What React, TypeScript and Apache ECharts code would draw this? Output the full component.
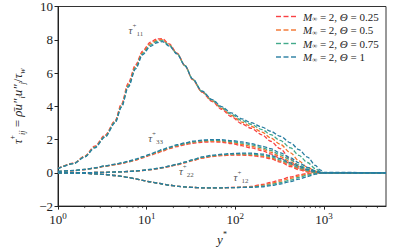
import React, { useEffect, useRef } from 'react';
import * as echarts from 'echarts';

const Y_STAR = [1, 1.5, 2, 2.6, 3.4, 4.4, 5.2, 6.2, 7.5, 9, 11, 13, 15, 18, 22, 27, 33, 42, 55, 70, 90, 118, 150, 200, 250, 320, 420, 520, 650, 800, 900, 1000, 5000];

const LEGEND_NAMES = ['M∞ = 2, Θ = 0.25', 'M∞ = 2, Θ = 0.5', 'M∞ = 2, Θ = 0.75', 'M∞ = 2, Θ = 1'];
const THETA_LABELS = ['0.25', '0.5', '0.75', '1'];
const COLORS = ['#F94144', '#F3722C', '#43AA8B', '#277DA1'];

// tau11
const TAU11_T025 = [0.27,0.58,1.0,1.6,2.27,3.13,4.15,5.4,6.5,7.32,7.85,8.05,8.06,7.75,7.2,6.45,5.6,4.85,4.28,3.82,3.38,2.95,2.68,2.28,1.9,1.45,0.82,0.4,0.14,0.04,0.01,0,0];
const TAU11_T050 = [0.26,0.57,0.98,1.56,2.22,3.08,4.07,5.3,6.4,7.24,7.76,7.97,8.0,7.7,7.18,6.45,5.62,4.87,4.32,3.88,3.45,3.05,2.8,2.45,2.1,1.72,1.2,0.72,0.33,0.1,0.03,0,0];
const TAU11_T075 = [0.25,0.56,0.97,1.53,2.19,3.05,4.0,5.22,6.32,7.17,7.68,7.9,7.95,7.66,7.16,6.44,5.63,4.89,4.36,3.93,3.52,3.15,2.92,2.6,2.3,1.95,1.5,1.05,0.62,0.25,0.08,0.01,0];
const TAU11_T100 = [0.25,0.55,0.95,1.5,2.15,3.0,3.95,5.15,6.25,7.1,7.6,7.82,7.89,7.62,7.15,6.45,5.65,4.92,4.4,3.98,3.6,3.25,3.02,2.75,2.5,2.2,1.8,1.4,0.95,0.45,0.18,0.03,0];

// tau33
const TAU33_T025 = [0.07,0.13,0.19,0.28,0.39,0.49,0.56,0.65,0.76,0.9,1.05,1.18,1.3,1.45,1.58,1.69,1.78,1.84,1.86,1.84,1.76,1.63,1.5,1.33,1.14,0.88,0.55,0.28,0.1,0.02,0,0,0];
const TAU33_T050 = [0.07,0.13,0.2,0.29,0.4,0.5,0.57,0.67,0.78,0.92,1.08,1.21,1.33,1.48,1.62,1.73,1.82,1.89,1.91,1.89,1.82,1.71,1.59,1.42,1.24,0.98,0.66,0.38,0.16,0.04,0.01,0,0];
const TAU33_T075 = [0.08,0.14,0.2,0.29,0.41,0.51,0.59,0.68,0.8,0.95,1.1,1.25,1.37,1.52,1.65,1.76,1.86,1.93,1.96,1.94,1.88,1.79,1.68,1.51,1.35,1.08,0.78,0.48,0.24,0.08,0.02,0,0];
const TAU33_T100 = [0.08,0.14,0.21,0.3,0.42,0.52,0.6,0.7,0.82,0.97,1.13,1.28,1.4,1.55,1.69,1.8,1.9,1.97,2.0,1.99,1.94,1.86,1.76,1.6,1.45,1.2,0.9,0.6,0.33,0.12,0.04,0,0];

// tau22
const TAU22_T025 = [0,0.005,0.01,0.02,0.03,0.05,0.06,0.08,0.1,0.14,0.19,0.24,0.3,0.38,0.48,0.6,0.73,0.88,0.98,1.03,1.06,1.07,1.04,0.96,0.85,0.65,0.38,0.18,0.05,0.01,0,0,0];
const TAU22_T050 = [0,0.005,0.01,0.02,0.03,0.05,0.06,0.08,0.1,0.14,0.19,0.25,0.31,0.39,0.5,0.62,0.75,0.9,1.0,1.06,1.09,1.1,1.08,1.01,0.9,0.71,0.45,0.24,0.09,0.02,0,0,0];
const TAU22_T075 = [0,0.005,0.01,0.02,0.03,0.05,0.06,0.08,0.11,0.15,0.2,0.26,0.31,0.4,0.51,0.63,0.77,0.93,1.03,1.09,1.13,1.14,1.13,1.07,0.97,0.78,0.52,0.3,0.13,0.03,0.01,0,0];
const TAU22_T100 = [0,0.005,0.01,0.02,0.03,0.05,0.06,0.08,0.11,0.15,0.2,0.26,0.32,0.41,0.52,0.65,0.79,0.96,1.06,1.12,1.16,1.18,1.18,1.13,1.04,0.86,0.6,0.4,0.2,0.06,0.02,0,0];

// tau12
const TAU12_T025 = [0,-0.01,-0.03,-0.06,-0.1,-0.16,-0.21,-0.28,-0.36,-0.45,-0.54,-0.61,-0.67,-0.74,-0.8,-0.85,-0.88,-0.9,-0.9,-0.9,-0.88,-0.86,-0.82,-0.7,-0.58,-0.42,-0.25,-0.12,-0.04,-0.01,0,0,0];
const TAU12_T050 = [0,-0.01,-0.03,-0.06,-0.1,-0.16,-0.21,-0.28,-0.36,-0.45,-0.54,-0.61,-0.67,-0.74,-0.8,-0.85,-0.88,-0.9,-0.9,-0.9,-0.885,-0.87,-0.84,-0.75,-0.65,-0.5,-0.33,-0.19,-0.08,-0.02,0,0,0];
const TAU12_T075 = [0,-0.01,-0.03,-0.06,-0.1,-0.16,-0.21,-0.28,-0.36,-0.45,-0.54,-0.61,-0.67,-0.74,-0.8,-0.85,-0.88,-0.9,-0.9,-0.9,-0.89,-0.875,-0.86,-0.8,-0.71,-0.59,-0.43,-0.28,-0.14,-0.04,-0.01,0,0];
const TAU12_T100 = [0,-0.01,-0.03,-0.06,-0.1,-0.16,-0.21,-0.28,-0.36,-0.45,-0.54,-0.61,-0.67,-0.74,-0.8,-0.85,-0.88,-0.9,-0.9,-0.9,-0.89,-0.88,-0.87,-0.84,-0.77,-0.67,-0.52,-0.38,-0.22,-0.08,-0.02,0,0];

const CASES = [
  [TAU11_T025, TAU22_T025, TAU33_T025, TAU12_T025],
  [TAU11_T050, TAU22_T050, TAU33_T050, TAU12_T050],
  [TAU11_T075, TAU22_T075, TAU33_T075, TAU12_T075],
  [TAU11_T100, TAU22_T100, TAU33_T100, TAU12_T100],
];

const Y_TICKS_MIN = -2;
const Y_TICKS_MAX = 10;
const Y_TICK_STEP = 2;
const X_MIN = 1;
const X_MAX = 5000;

const MINOR_TICKS = [2,3,4,5,6,7,8,9,20,30,40,50,60,70,80,90,200,300,400,500,600,700,800,900,2000,3000,4000];

const TAU_LABEL_IDX = ['11', '33', '22', '12'];
const TAU_LABEL_X = [7.56, 12.6, 28, 116];
const TAU_LABEL_Y = [8.6, 2.07, 0.11, -0.27];

const SERIF = '"Liberation Serif", "DejaVu Serif", serif';
const TEXT = '#222';

export default function App() {
  const ref = useRef<HTMLDivElement>(null);
  useEffect(() => {
    document.body.style.margin = '0';
    if (!ref.current) return;
    const chart = echarts.init(ref.current, undefined, { renderer: 'svg' });

    const lineSeries: any[] = [];
    CASES.forEach((arrs, i) => {
      arrs.forEach((arr) => {
        lineSeries.push({
          type: 'line',
          name: LEGEND_NAMES[i],
          data: Y_STAR.map((x, k) => [x, arr[k]]),
          showSymbol: false,
          symbol: 'none',
          smooth: 0.3,
          smoothMonotone: 'x',
          lineStyle: { color: COLORS[i], width: 1.3, type: [4, 2] },
          itemStyle: { color: COLORS[i] },
          z: 2 + i,
        });
      });
    });

    const mathRich = {
      i: { fontFamily: SERIF, fontStyle: 'italic', fontSize: 13, lineHeight: 18, color: TEXT },
      n: { fontFamily: SERIF, fontSize: 13, lineHeight: 18, color: TEXT },
      p: { fontFamily: SERIF, fontSize: 8, lineHeight: 9, verticalAlign: 'top', color: TEXT },
      s: { fontFamily: SERIF, fontStyle: 'italic', fontSize: 8, lineHeight: 9, verticalAlign: 'bottom', color: TEXT },
    };

    const legendRich = {
      i: { fontFamily: SERIF, fontStyle: 'italic', fontSize: 11, lineHeight: 12, fill: TEXT },
      n: { fontFamily: SERIF, fontSize: 11, lineHeight: 12, fill: TEXT },
      s: { fontFamily: SERIF, fontSize: 7, lineHeight: 7, verticalAlign: 'bottom', fill: TEXT },
    };

    // legend drawn as graphic: three dashes + label per entry
    const legendGraphic = THETA_LABELS.map((th, i) => ({
      type: 'group',
      x: 276,
      y: 16.5 + 13.5 * i,
      children: [
        { type: 'rect', shape: { x: 0, y: -0.7, width: 5, height: 1.4 }, style: { fill: COLORS[i] } },
        { type: 'rect', shape: { x: 7.5, y: -0.7, width: 5, height: 1.4 }, style: { fill: COLORS[i] } },
        { type: 'rect', shape: { x: 15, y: -0.7, width: 5, height: 1.4 }, style: { fill: COLORS[i] } },
        {
          type: 'text',
          x: 27,
          y: 0,
          style: {
            text: `{i|M}{s|∞}{n| = 2, }{i|Θ}{n| = ${th}}`,
            rich: legendRich,
            verticalAlign: 'middle',
            align: 'left',
            fill: TEXT,
            fontFamily: SERIF,
            fontSize: 11,
          },
        },
      ],
    }));

    const option: any = {
      animation: false,
      grid: { left: 52, right: 13, top: 5, bottom: 38, show: true, borderColor: '#333', borderWidth: 1, backgroundColor: 'transparent' },
      graphic: legendGraphic,
      xAxis: {
        type: 'log',
        logBase: 10,
        min: X_MIN,
        max: X_MAX,
        name: '{i|y}{p|*}',
        nameLocation: 'middle',
        nameGap: 21,
        nameTextStyle: { rich: mathRich },
        axisLine: { show: true, onZero: false, lineStyle: { color: '#222', width: 1 } },
        axisTick: { show: true, length: 3.5, lineStyle: { color: '#222' } },
        splitLine: { show: false },
        axisLabel: {
          margin: 5,
          showMaxLabel: false,
          formatter: (v: number) => {
            const e = Math.log10(v);
            if (Math.abs(e - Math.round(e)) > 1e-6) return '';
            return `{b|10}{e|${Math.round(e)}}`;
          },
          rich: {
            b: { fontFamily: SERIF, fontSize: 13, lineHeight: 16, color: TEXT },
            e: { fontFamily: SERIF, fontSize: 9, lineHeight: 9, verticalAlign: 'top', color: TEXT },
          },
        },
      },
      yAxis: {
        type: 'value',
        min: Y_TICKS_MIN,
        max: Y_TICKS_MAX,
        interval: Y_TICK_STEP,
        name: '{i|τ}{p|+}{s|ij}{n| = }{i|ρ̄u″}{s|i}{i|u″}{s|j}{n|/}{i|τ}{s|w}',
        nameLocation: 'middle',
        nameRotate: 90,
        nameGap: 32,
        nameTextStyle: { rich: mathRich },
        axisLine: { show: true, onZero: false, lineStyle: { color: '#222', width: 1 } },
        axisTick: { show: true, length: 3.5, lineStyle: { color: '#222' } },
        splitLine: { show: false },
        axisLabel: {
          margin: 5,
          color: TEXT,
          fontFamily: SERIF,
          fontSize: 13,
          formatter: (v: number) => (v < 0 ? '−' + Math.abs(v) : String(v)),
        },
      },
      series: [
        ...lineSeries,
        {
          type: 'custom',
          silent: true,
          clip: false,
          data: MINOR_TICKS.map((v) => [v, Y_TICKS_MIN]),
          renderItem: (params: any, api: any) => {
            const p = api.coord([api.value(0), api.value(1)]);
            return {
              type: 'line',
              shape: { x1: p[0], y1: p[1], x2: p[0], y2: p[1] + 2 },
              style: { stroke: '#222', lineWidth: 0.8 },
            };
          },
          z: 1,
        },
        {
          type: 'scatter',
          silent: true,
          symbolSize: 1,
          itemStyle: { color: 'rgba(0,0,0,0)' },
          z: 10,
          data: TAU_LABEL_IDX.map((idx, k) => ({
            value: [TAU_LABEL_X[k], TAU_LABEL_Y[k]],
            label: {
              show: true,
              position: 'inside',
              formatter: `{t|τ}{p|+}{s|${idx}}`,
              rich: {
                t: { fontFamily: SERIF, fontStyle: 'italic', fontSize: 11, lineHeight: 15, color: TEXT },
                p: { fontFamily: SERIF, fontSize: 7, lineHeight: 7, verticalAlign: 'top', color: TEXT },
                s: { fontFamily: SERIF, fontSize: 7, lineHeight: 7, verticalAlign: 'bottom', color: TEXT },
              },
            },
          })),
        },
      ],
    };
    chart.setOption(option);
    return () => chart.dispose();
  }, []);
  return <div ref={ref} style={{ width: 399, height: 251 }} />;
}
